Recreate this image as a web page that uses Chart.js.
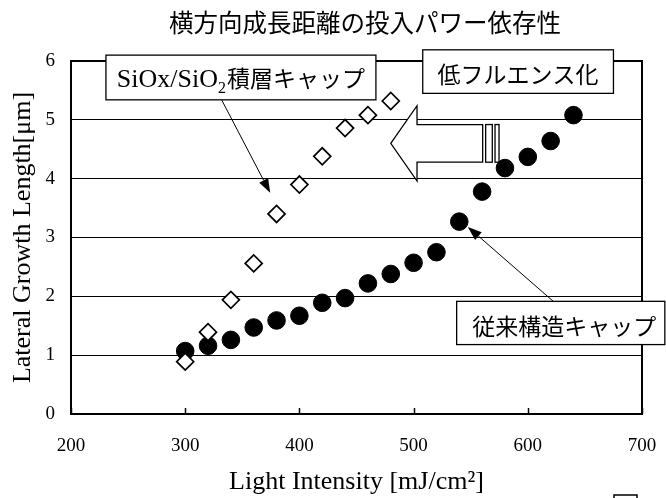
<!DOCTYPE html>
<html>
<head>
<meta charset="utf-8">
<script src="https://cdn.jsdelivr.net/npm/chart.js@4/dist/chart.umd.min.js"></script>
<style>
  html, body { margin: 0; padding: 0; background: #ffffff; }
  #wrap { width: 666px; height: 498px; }
</style>
</head>
<body>
<div id="wrap"><canvas id="chart" width="666" height="498"></canvas></div>
<script>
// Texts
const chartTitle = '横方向成長距離の投入パワー依存性';
const xAxisTitle = 'Light Intensity [mJ/cm²]';
const yAxisTitle = 'Lateral Growth Length[μm]';
const labelStackedLatin = 'SiOx/SiO';
const labelStackedSub = '2';
const labelStackedJa = '積層キャップ';
const labelConventional = '従来構造キャップ';
const labelLowFluence = '低フルエンス化';

// Axis ticks
const xTicks = [200, 300, 400, 500, 600, 700];
const yTicks = [0, 1, 2, 3, 4, 5, 6];

// Conventional cap (filled circles)
const conventionalPower = [300, 320, 340, 360, 380, 400, 420, 440, 460, 480, 500, 520, 540, 560, 580, 600, 620, 640];
const conventionalLength = [1.07, 1.16, 1.26, 1.47, 1.59, 1.67, 1.89, 1.97, 2.22, 2.38, 2.57, 2.75, 3.27, 3.78, 4.18, 4.37, 4.64, 5.08];

// SiOx/SiO2 stacked cap (open diamonds)
const stackedPower = [300, 320, 340, 360, 380, 400, 420, 440, 460, 480];
const stackedLength = [0.89, 1.39, 1.94, 2.56, 3.40, 3.90, 4.38, 4.86, 5.08, 5.32];

const SERIF = '"Liberation Serif", "Times New Roman", serif';
const JA = '"Noto Sans CJK JP", "Noto Sans", sans-serif';

const toPoints = (xs, ys) => xs.map((x, i) => ({ x: x, y: ys[i] }));

// Callouts and the shift arrow, placed in data units
const callouts = {
  stackedBox: { x0: 230.6, x1: 467, y0: 6.10, y1: 5.34, arrowFrom: [331.9, 5.34], arrowTo: [374.4, 3.76] },
  lowFluenceBox: { x0: 508, x1: 675, y0: 6.19, y1: 5.45 },
  conventionalBox: { x0: 537.7, x1: 720, y0: 1.915, y1: 1.18, textX: 632, arrowFrom: [622.3, 1.915], arrowTo: [547.5, 3.18] },
  shiftArrow: { tipX: 480, headX: 503, endX: 560.5, yMid: 4.6, headHalf: 0.64, shaftHalf: 0.32, bars: [[563.1, 568.9], [571.3, 574.8]] }
};

function arrowLine(ctx, x1, y1, x2, y2) {
  const ang = Math.atan2(y2 - y1, x2 - x1);
  const len = 14, half = 5;
  const bx = x2 - len * Math.cos(ang), by = y2 - len * Math.sin(ang);
  ctx.beginPath();
  ctx.moveTo(x1, y1);
  ctx.lineTo(bx, by);
  ctx.strokeStyle = '#000';
  ctx.lineWidth = 1;
  ctx.stroke();
  ctx.beginPath();
  ctx.moveTo(x2, y2);
  ctx.lineTo(bx + half * Math.sin(ang), by - half * Math.cos(ang));
  ctx.lineTo(bx - half * Math.sin(ang), by + half * Math.cos(ang));
  ctx.closePath();
  ctx.fillStyle = '#000';
  ctx.fill();
}

function box(ctx, l, t, r, b) {
  ctx.fillStyle = '#fff';
  ctx.fillRect(l, t, r - l, b - t);
  ctx.strokeStyle = '#000';
  ctx.lineWidth = 1.3;
  ctx.strokeRect(l, t, r - l, b - t);
}

const decorations = {
  id: 'decorations',
  beforeDatasetsDraw(chart) {
    const { ctx, chartArea: a, scales: { x, y } } = chart;
    ctx.save();
    // top and right frame
    ctx.strokeStyle = '#000';
    ctx.lineWidth = 2;
    ctx.beginPath();
    ctx.moveTo(a.left, a.top);
    ctx.lineTo(a.right, a.top);
    ctx.lineTo(a.right, a.bottom);
    ctx.stroke();
    // inward tick marks on the x axis
    ctx.lineWidth = 1.5;
    xTicks.forEach(v => {
      const px = Math.round(x.getPixelForValue(v)) + 0.5;
      ctx.beginPath();
      ctx.moveTo(px, a.bottom);
      ctx.lineTo(px, a.bottom - 6);
      ctx.stroke();
    });
    // hollow arrow pointing to lower intensity
    const s = callouts.shiftArrow;
    const X = v => x.getPixelForValue(v), Y = v => y.getPixelForValue(v);
    ctx.beginPath();
    ctx.moveTo(X(s.tipX), Y(s.yMid));
    ctx.lineTo(X(s.headX), Y(s.yMid + s.headHalf));
    ctx.lineTo(X(s.headX), Y(s.yMid + s.shaftHalf));
    ctx.lineTo(X(s.endX), Y(s.yMid + s.shaftHalf));
    ctx.lineTo(X(s.endX), Y(s.yMid - s.shaftHalf));
    ctx.lineTo(X(s.headX), Y(s.yMid - s.shaftHalf));
    ctx.lineTo(X(s.headX), Y(s.yMid - s.headHalf));
    ctx.closePath();
    ctx.fillStyle = '#fff';
    ctx.fill();
    ctx.lineWidth = 1.3;
    ctx.stroke();
    s.bars.forEach(([b0, b1]) => {
      const l = X(b0), r = X(b1), t = Y(s.yMid + s.shaftHalf), b = Y(s.yMid - s.shaftHalf);
      ctx.fillRect(l, t, r - l, b - t);
      ctx.strokeRect(l, t, r - l, b - t);
    });
    ctx.restore();
  },
  afterDraw(chart) {
    const { ctx, scales: { x, y } } = chart;
    const X = v => x.getPixelForValue(v), Y = v => y.getPixelForValue(v);
    ctx.save();

    // chart title
    ctx.fillStyle = '#000';
    ctx.font = '24.5px ' + JA;
    ctx.textAlign = 'center';
    ctx.textBaseline = 'middle';
    ctx.fillText(chartTitle, 365, 23);

    // SiOx/SiO2 stacked cap callout
    const sb = callouts.stackedBox;
    arrowLine(ctx, X(sb.arrowFrom[0]), Y(sb.arrowFrom[1]), X(sb.arrowTo[0]), Y(sb.arrowTo[1]));
    box(ctx, X(sb.x0), Y(sb.y0), X(sb.x1), Y(sb.y1));
    ctx.fillStyle = '#000';
    ctx.textBaseline = 'alphabetic';
    ctx.textAlign = 'left';
    const fLatin = '26px ' + SERIF, fSub = '16px ' + SERIF, fJa = '23px ' + JA;
    ctx.font = fLatin; const w1 = ctx.measureText(labelStackedLatin).width;
    ctx.font = fSub; const w2 = ctx.measureText(labelStackedSub).width;
    ctx.font = fJa; const w3 = ctx.measureText(labelStackedJa).width;
    const baseY = Y(sb.y1) - 13;
    let tx = (X(sb.x0) + X(sb.x1)) / 2 - (w1 + w2 + w3 + 1) / 2;
    ctx.font = fLatin; ctx.fillText(labelStackedLatin, tx, baseY); tx += w1;
    ctx.font = fSub; ctx.fillText(labelStackedSub, tx, baseY + 6); tx += w2 + 1;
    ctx.font = fJa; ctx.fillText(labelStackedJa, tx, baseY);

    // low-fluence box
    const lf = callouts.lowFluenceBox;
    box(ctx, X(lf.x0), Y(lf.y0), X(lf.x1), Y(lf.y1));
    ctx.fillStyle = '#000';
    ctx.font = fJa;
    ctx.textAlign = 'center';
    ctx.textBaseline = 'middle';
    ctx.fillText(labelLowFluence, (X(lf.x0) + X(lf.x1)) / 2, (Y(lf.y0) + Y(lf.y1)) / 2 + 3);

    // conventional cap callout
    const cb = callouts.conventionalBox;
    arrowLine(ctx, X(cb.arrowFrom[0]), Y(cb.arrowFrom[1]), X(cb.arrowTo[0]), Y(cb.arrowTo[1]));
    box(ctx, X(cb.x0), Y(cb.y0), Math.min(X(cb.x1), chart.width - 1), Y(cb.y1));
    ctx.fillStyle = '#000';
    ctx.fillText(labelConventional, X(cb.textX), (Y(cb.y0) + Y(cb.y1)) / 2 + 3);

    // small frame corner at the lower right edge
    ctx.strokeStyle = '#000';
    ctx.lineWidth = 1.5;
    ctx.strokeRect(chart.width - 52, chart.height - 3, 23, 12);

    ctx.restore();
  }
};

new Chart(document.getElementById('chart'), {
  type: 'scatter',
  data: {
    datasets: [
      {
        label: labelStackedLatin + labelStackedSub + labelStackedJa,
        data: toPoints(stackedPower, stackedLength),
        pointStyle: 'rectRot',
        pointRadius: 8.5,
        pointBackgroundColor: '#ffffff',
        pointBorderColor: '#000000',
        pointBorderWidth: 1.7,
        showLine: false
      },
      {
        label: labelConventional,
        data: toPoints(conventionalPower, conventionalLength),
        pointStyle: 'circle',
        pointRadius: 8.8,
        pointBackgroundColor: '#000000',
        pointBorderColor: '#000000',
        pointBorderWidth: 1,
        showLine: false
      }
    ]
  },
  options: {
    responsive: false,
    devicePixelRatio: 1,
    animation: false,
    layout: { padding: { top: 61, right: 24, left: 0, bottom: 0 } },
    plugins: {
      legend: { display: false },
      tooltip: { enabled: false },
      title: { display: false }
    },
    scales: {
      x: {
        type: 'linear',
        position: 'bottom',
        min: 200,
        max: 700,
        afterBuildTicks: s => { s.ticks = xTicks.map(v => ({ value: v })); },
        afterFit: s => { s.height = 84; },
        ticks: { color: '#000', font: { family: SERIF, size: 19 }, padding: 0, maxRotation: 0 },
        grid: { color: 'rgba(0,0,0,0)', drawTicks: true, tickLength: 21, drawOnChartArea: false },
        border: { display: true, color: '#000', width: 2 },
        title: { display: true, text: xAxisTitle, color: '#000', font: { family: SERIF, size: 26 }, padding: { top: 0, bottom: 0 } }
      },
      y: {
        type: 'linear',
        position: 'left',
        min: 0,
        max: 6,
        afterBuildTicks: s => { s.ticks = yTicks.map(v => ({ value: v })); },
        afterFit: s => { s.width = 71; },
        ticks: { color: '#000', font: { family: SERIF, size: 19 }, padding: 16 },
        grid: { color: '#000', lineWidth: 1, drawTicks: false },
        border: { display: true, color: '#000', width: 2 },
        title: { display: true, text: yAxisTitle, color: '#000', font: { family: SERIF, size: 26 }, padding: { top: 8, bottom: 0 } }
      }
    }
  },
  plugins: [decorations]
});
</script>
</body>
</html>
